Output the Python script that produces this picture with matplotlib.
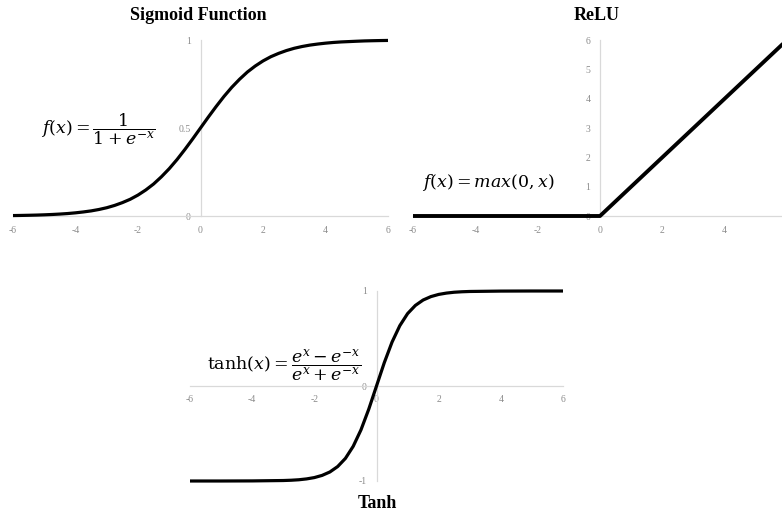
import matplotlib
matplotlib.use("Agg")
import matplotlib.pyplot as plt

plt.rcParams['mathtext.fontset'] = 'dejavuserif'
plt.rcParams['axes.unicode_minus'] = False

# Data
sig_x = [-6, -5.75, -5.5, -5.25, -5, -4.75, -4.5, -4.25, -4, -3.75, -3.5, -3.25,
         -3, -2.75, -2.5, -2.25, -2, -1.75, -1.5, -1.25, -1, -0.75, -0.5, -0.25,
         0, 0.25, 0.5, 0.75, 1, 1.25, 1.5, 1.75, 2, 2.25, 2.5, 2.75,
         3, 3.25, 3.5, 3.75, 4, 4.25, 4.5, 4.75, 5, 5.25, 5.5, 5.75, 6]
sig_y = [0.0025, 0.0032, 0.0041, 0.0052, 0.0067, 0.0086, 0.011, 0.014, 0.018, 0.023,
         0.029, 0.037, 0.047, 0.060, 0.076, 0.095, 0.119, 0.148, 0.182, 0.223,
         0.269, 0.321, 0.378, 0.438, 0.5, 0.562, 0.622, 0.679, 0.731, 0.777,
         0.818, 0.852, 0.881, 0.905, 0.924, 0.940, 0.953, 0.963, 0.971, 0.977,
         0.982, 0.986, 0.989, 0.991, 0.993, 0.9948, 0.9959, 0.9968, 0.9975]

relu_x = [-6, -4, -2, 0, 2, 4, 6]
relu_y = [0, 0, 0, 0, 2, 4, 6]

tanh_x = [-6, -5, -4, -3, -2.75, -2.5, -2.25, -2, -1.75, -1.5, -1.25, -1, -0.75,
          -0.5, -0.25, 0, 0.25, 0.5, 0.75, 1, 1.25, 1.5, 1.75, 2, 2.25, 2.5,
          2.75, 3, 4, 5, 6]
tanh_y = [-1, -1, -0.999, -0.995, -0.992, -0.987, -0.978, -0.964, -0.941, -0.905,
          -0.848, -0.762, -0.635, -0.462, -0.245, 0, 0.245, 0.462, 0.635, 0.762,
          0.848, 0.905, 0.941, 0.964, 0.978, 0.987, 0.992, 0.995, 0.999, 1, 1]

x_ticks = [-6, -4, -2, 0, 2, 4, 6]
sig_yticks = [0, 0.5, 1]
sig_ylabels = ['0', '0.5', '1']
relu_yticks = [0, 1, 2, 3, 4, 5, 6]
tanh_yticks = [-1, 0, 1]

titles = ["Sigmoid Function", "ReLU", "Tanh"]

W, H = 782, 519
fig = plt.figure(figsize=(W / 100, H / 100), dpi=100)

AXCOL = '#d9d9d9'
TICKCOL = '#8c8c8c'
SERIF = ['Liberation Serif', 'DejaVu Serif']


def make_ax(x0, x1, y0, y1):
    # pixel coords: x0,x1 horizontal; y0 = top pixel, y1 = bottom pixel
    ax = fig.add_axes([x0 / W, 1 - y1 / H, (x1 - x0) / W, (y1 - y0) / H])
    ax.patch.set_alpha(0)
    for s in ['top', 'right']:
        ax.spines[s].set_visible(False)
    ax.spines['left'].set_position(('data', 0))
    ax.spines['bottom'].set_position(('data', 0))
    for s in ['left', 'bottom']:
        ax.spines[s].set_color(AXCOL)
        ax.spines[s].set_linewidth(0.9)
    ax.tick_params(length=0, colors=TICKCOL, labelsize=7)
    ax.tick_params(axis='x', pad=7.5)
    ax.tick_params(axis='y', pad=7)
    return ax


def style_labels(ax):
    for lab in ax.get_xticklabels() + ax.get_yticklabels():
        lab.set_family(SERIF)
        lab.set_color(TICKCOL)
        lab.set_fontsize(7)


MATHSIZE = 12.5

# Sigmoid
ax1 = make_ax(13, 388, 40, 216)
ax1.plot(sig_x, sig_y, color='black', lw=2.3, clip_on=False,
         solid_capstyle='butt', zorder=3)
ax1.set_xlim(-6, 6)
ax1.set_ylim(0, 1)
ax1.set_xticks(x_ticks)
ax1.set_xticklabels([str(t) for t in x_ticks])
ax1.set_yticks(sig_yticks)
ax1.set_yticklabels(sig_ylabels)
style_labels(ax1)
ax1.text(-5.1, 0.49, r'$f(x) = \dfrac{1}{1 + e^{-x}}$', fontsize=MATHSIZE,
         ha='left', va='center')

# ReLU
ax2 = make_ax(413, 787, 40, 216)
ax2.plot(relu_x, relu_y, color='black', lw=2.8, clip_on=False,
         solid_capstyle='butt', zorder=3)
ax2.set_xlim(-6, 6)
ax2.set_ylim(0, 6)
ax2.set_xticks(x_ticks[:-1])
ax2.set_xticklabels([str(t) for t in x_ticks[:-1]])
ax2.set_yticks(relu_yticks)
ax2.set_yticklabels([str(t) for t in relu_yticks])
style_labels(ax2)
ax2.text(-5.7, 1.15, r'$f(x) = max(0, x)$', fontsize=MATHSIZE,
         ha='left', va='center')

# Tanh
ax3 = make_ax(190, 563, 291, 481)
ax3.plot(tanh_x, tanh_y, color='black', lw=2.3, clip_on=False,
         solid_capstyle='butt', zorder=3)
ax3.set_xlim(-6, 6)
ax3.set_ylim(-1, 1)
ax3.set_xticks(x_ticks)
ax3.set_xticklabels([str(t) for t in x_ticks])
ax3.set_yticks(tanh_yticks)
ax3.set_yticklabels([str(t) for t in tanh_yticks])
style_labels(ax3)
ax3.tick_params(axis='x', pad=6.5)
ax3.text(-5.45, 0.21, r'$\mathrm{tanh}(x) = \dfrac{e^{x} - e^{-x}}{e^{x} + e^{-x}}$',
         fontsize=MATHSIZE, ha='left', va='center')

fig.text(198 / W, 1 - 15 / H, titles[0], fontsize=13, fontweight='bold',
         family=SERIF, ha='center', va='center')
fig.text(597 / W, 1 - 15 / H, titles[1], fontsize=13, fontweight='bold',
         family=SERIF, ha='center', va='center')
fig.text(377 / W, 1 - 503 / H, titles[2], fontsize=13, fontweight='bold',
         family=SERIF, ha='center', va='center')

fig.savefig('out.png', dpi=100)
